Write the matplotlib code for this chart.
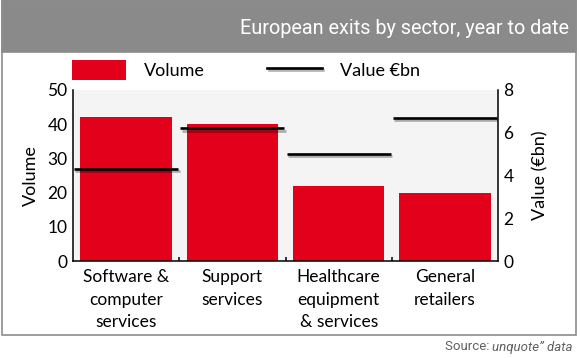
import numpy as np
import matplotlib
matplotlib.use("Agg")
import matplotlib.pyplot as plt
import matplotlib.patheffects as pe
from matplotlib.patches import Rectangle, Patch
from matplotlib.lines import Line2D

# data
sectors = ["Software &\ncomputer\nservices", "Support\nservices",
           "Healthcare\nequipment\n& services", "General\nretailers"]
volume = [42, 40, 22, 20]
value_bn = [4.3, 6.2, 5.0, 6.7]

title = "European exits by sector, year to date"
red = "#e2001a"
body_font = "Lato"
cond_font = "Roboto"

plt.rcParams["font.family"] = [body_font, "DejaVu Sans"]

W, H = 580, 358
fig = plt.figure(figsize=(W / 100, H / 100), dpi=100)

# frame + grey header
fig.patches.append(Rectangle((2 / W, 1 - 335 / H), 574 / W, 335 / H,
                             transform=fig.transFigure, facecolor="white",
                             edgecolor="#8c8c8c", linewidth=1.2, zorder=-2))
fig.patches.append(Rectangle((2 / W, 1 - 52 / H), 574 / W, 52 / H,
                             transform=fig.transFigure, facecolor="#8a8a8b",
                             edgecolor="#8c8c8c", linewidth=1.2, zorder=-1))
fig.text(569 / W, 1 - 28 / H, title, ha="right", va="center", color="white",
         fontsize=14.3, family=cond_font)

ax = fig.add_axes([73 / W, 1 - 261 / H, 425 / W, 171 / H])
ax.set_facecolor("#f4f4f4")
x = np.arange(len(sectors))
bars = ax.bar(x, volume, width=0.86, color=red, zorder=2)
ax.set_xlim(-0.5, len(sectors) - 0.5)
ax.set_ylim(0, 50)
ax.set_yticks([0, 10, 20, 30, 40, 50])
ax.set_xticks(x)
ax.set_xticklabels(sectors, fontsize=12.5, linespacing=1.5)
ax.set_xticks(x[:-1] + 0.5, minor=True)
ax.tick_params(axis="x", which="major", length=0, pad=6)
ax.tick_params(axis="x", which="minor", direction="in", length=3, width=1.1)
ax.tick_params(axis="y", length=0, pad=4, labelsize=12.5)
ax.set_ylabel("Volume", fontsize=13)
ax.yaxis.set_label_coords(-0.08, 0.5)
for s in ["top", "right"]:
    ax.spines[s].set_visible(False)
for s in ["left", "bottom"]:
    ax.spines[s].set_linewidth(1.1)

ax2 = ax.twinx()
ax2.set_ylim(0, 8)
ax2.set_yticks([0, 2, 4, 6, 8])
ax2.tick_params(axis="y", length=0, pad=4, labelsize=12.5)
shadow = [pe.SimpleLineShadow(offset=(1, -1.5), alpha=0.3), pe.Normal()]
ax2.hlines(value_bn, x - 0.49, x + 0.49, color="black", linewidth=1.9,
           path_effects=shadow, zorder=3)
ax2.set_ylabel("Value (€bn)", fontsize=13, rotation=90)
ax2.yaxis.set_label_coords(1.081, 0.5)
for s in ["top", "left", "bottom"]:
    ax2.spines[s].set_visible(False)
ax2.spines["right"].set_linewidth(1.1)

handles = [Patch(facecolor=red, edgecolor="none"),
           Line2D([0], [0], color="black", linewidth=1.9, path_effects=shadow)]
fig.legend(handles, ["Volume", "Value €bn"], loc="center left",
           bbox_to_anchor=(72 / W, 1 - 70 / H), bbox_transform=fig.transFigure,
           ncol=2, frameon=False, fontsize=13, borderpad=0, borderaxespad=0,
           handlelength=3.0, handleheight=1.3, handletextpad=1.0,
           columnspacing=3.45)

# source line, "unquote" part in italics
src = fig.text(573 / W, 1 - 347 / H, "unquote\u201d data", ha="right",
               va="center", fontsize=9.5, style="italic", color="#606060",
               family=cond_font)
fig.add_artist(plt.Annotation("Source: ", xy=(0, 0.5), xycoords=src,
                              ha="right", va="center", fontsize=9.5,
                              color="#606060", family=cond_font))

fig.savefig("out.png", dpi=100)
